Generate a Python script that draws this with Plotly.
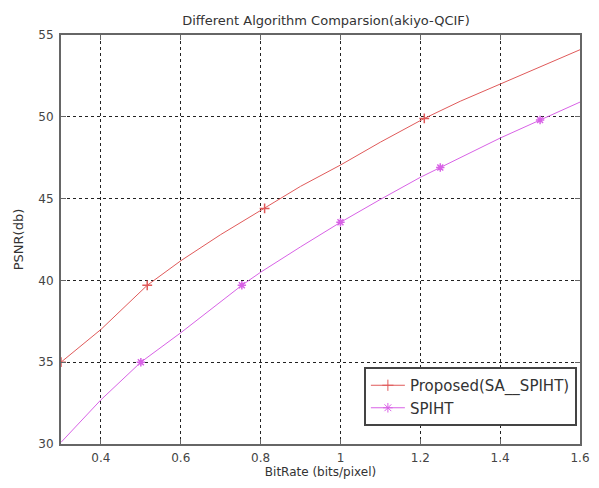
import plotly.graph_objects as go

# Curve samples
proposed_x = [0.3, 0.4, 0.516, 0.6, 0.7, 0.81, 0.9, 1.0, 1.1, 1.21, 1.3, 1.4, 1.5, 1.6]
proposed = [35.0, 37.0, 39.7, 41.2, 42.8, 44.4, 45.75, 47.05, 48.45, 49.9, 50.95, 52.0, 53.05, 54.1]
spiht_x = [0.3, 0.4, 0.5, 0.6, 0.753, 0.8, 0.9, 1.0, 1.1, 1.2, 1.25, 1.3, 1.4, 1.5, 1.6]
spiht = [30.1, 32.7, 35.0, 36.8, 39.7, 40.5, 42.05, 43.55, 44.95, 46.3, 46.9, 47.5, 48.7, 49.8, 50.9]

# Marker points
proposed_mx = [0.3, 0.516, 0.81, 1.21]
proposed_my = [35.0, 39.7, 44.4, 49.9]
spiht_mx = [0.5, 0.753, 1.0, 1.25, 1.5]
spiht_my = [35.0, 39.7, 43.55, 46.9, 49.8]

x_ticks = [0.4, 0.6, 0.8, 1.0, 1.2, 1.4, 1.6]
x_ticklabels = ["0.4", "0.6", "0.8", "1", "1.2", "1.4", "1.6"]
y_ticks = [30, 35, 40, 45, 50, 55]

RED = "#e05a5a"
MAG = "#d862e6"
FONT = "DejaVu Sans, Liberation Sans, Arial"

fig = go.Figure()
for name, xs, ys, mx, my, col, sym in [
    ("Proposed(SA__SPIHT)", proposed_x, proposed, proposed_mx, proposed_my, RED, "cross-thin-open"),
    ("SPIHT", spiht_x, spiht, spiht_mx, spiht_my, MAG, "asterisk-open"),
]:
    fig.add_trace(go.Scatter(x=xs, y=ys, mode="lines", line=dict(color=col, width=1),
                             showlegend=False, hoverinfo="skip"))
    fig.add_trace(go.Scatter(x=mx, y=my, mode="markers",
                             marker=dict(symbol=sym, size=7, color=col, line=dict(color=col, width=1.5)),
                             showlegend=False))
    fig.add_trace(go.Scatter(x=[None], y=[None], mode="lines+markers", name=name,
                             line=dict(color=col, width=1),
                             marker=dict(symbol=sym, size=8, color=col, line=dict(color=col, width=1))))

axis_common = dict(
    showgrid=True, gridcolor="#222222", griddash="dot", gridwidth=1,
    showline=True, linecolor="#666666", linewidth=2, mirror="ticks",
    ticks="inside", ticklen=5, tickcolor="#666666",
    zeroline=False, automargin=False,
    tickfont=dict(family=FONT, size=12, color="#444444"),
)

fig.update_layout(
    width=599, height=488,
    paper_bgcolor="white", plot_bgcolor="white",
    margin=dict(l=53, r=27, t=27, b=52),
    title=dict(text="Different Algorithm Comparsion(akiyo-QCIF)", x=0.531, xanchor="center",
               y=0.975, yanchor="middle",
               font=dict(family=FONT, size=13, color="#333333")),
    xaxis=dict(range=[0.3, 1.6], tickvals=x_ticks, ticktext=x_ticklabels, ticklabelstandoff=2,
               title=dict(text="BitRate (bits/pixel)", standoff=3,
                          font=dict(family=FONT, size=12, color="#333333")),
               **axis_common),
    yaxis=dict(range=[30, 55], tickvals=y_ticks, ticklabelstandoff=3,
               title=dict(text="PSNR(db)", standoff=12,
                          font=dict(family=FONT, size=13, color="#333333")),
               **axis_common),
    legend=dict(x=0.994, y=0.044, xanchor="right", yanchor="bottom",
                bgcolor="white", bordercolor="#444444", borderwidth=2,
                font=dict(family=FONT, size=15, color="#333333"),
                tracegroupgap=0, itemwidth=34),
    showlegend=True,
)

fig.write_html("out.html")
